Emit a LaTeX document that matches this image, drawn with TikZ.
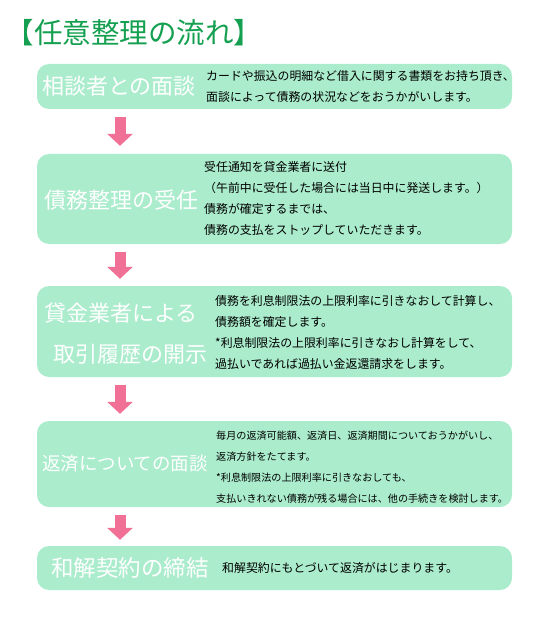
\documentclass[tikz,border=0pt]{standalone}
\usepackage{fontspec}
\setmainfont{Noto Sans CJK JP}
\usetikzlibrary{arrows.meta}
\definecolor{mint}{RGB}{170,236,204}
\definecolor{ttl}{RGB}{20,160,80}
\definecolor{pnk}{RGB}{240,112,150}
\begin{document}
\begin{tikzpicture}[x=1pt,y=-1pt,
  box/.style={fill=mint, rounded corners=12pt, minimum width=475pt, inner sep=0pt},
  lbl/.style={text=white, inner sep=0pt, font=\fontsize{22}{24}\selectfont},
  desc/.style={anchor=west, inner sep=0pt, align=left, font=\fontsize{11.9}{21}\selectfont},
  parrow/.style={draw=pnk, line width=11pt, -{Triangle[width=25pt,length=12pt]}}]
\useasboundingbox (0,0) rectangle (535,617);
\node[text=ttl, inner sep=0pt, font=\fontsize{28.5}{30}\selectfont] (title) at (134,33) {【任意整理の流れ】};

\node[box, minimum height=45pt] (b1) at (274.5,86.5) {};
\node[box, minimum height=90pt] (b2) at (274.5,199) {};
\node[box, minimum height=91pt] (b3) at (274.5,331.5) {};
\node[box, minimum height=86pt] (b4) at (274.5,464) {};
\node[box, minimum height=44pt] (b5) at (274.5,568) {};

\node[lbl] (l1) at (119,86) {相談者との面談};
\node[lbl] (l2) at (121,200) {債務整理の受任};
\node[lbl] (l3a) at (121,313) {貸金業者による};
\node[lbl] (l3b) at (130,354) {取引履歴の開示};
\node[lbl, font=\fontsize{18.5}{20}\selectfont] (l4) at (125,464) {返済についての面談};
\node[lbl, font=\fontsize{22.5}{24}\selectfont] (l5) at (130,568) {和解契約の締結};

\node[desc] (d1) at (206,86.5) {カードや振込の明細など借入に関する書類をお持ち頂き、\\面談によって債務の状況などをおうかがいします。};
\node[desc] (d2) at (204,198.5) {受任通知を貸金業者に送付\\（午前中に受任した場合には当日中に発送します。）\\債務が確定するまでは、\\債務の支払をストップしていただきます。};
\node[desc] (d3) at (215,332.5) {債務を利息制限法の上限利率に引きなおして計算し、\\債務額を確定します。\\*利息制限法の上限利率に引きなおし計算をして、\\過払いであれば過払い金返還請求をします。};
\node[desc, font=\fontsize{10.1}{21}\selectfont] (d4) at (216,467) {毎月の返済可能額、返済日、返済期間についておうかがいし、\\返済方針をたてます。\\*利息制限法の上限利率に引きなおしても、\\支払いきれない債務が残る場合には、他の手続きを検討します。};
\node[desc] (d5) at (222,568) {和解契約にもとづいて返済がはじまります。};

\coordinate (ax) at (120,0);
\draw[parrow] ([yshift=-8pt]b1.south -| ax) -- ([yshift=8pt]b2.north -| ax);
\draw[parrow] ([yshift=-8pt]b2.south -| ax) -- ([yshift=7pt]b3.north -| ax);
\draw[parrow] ([yshift=-8pt]b3.south -| ax) -- ([yshift=7pt]b4.north -| ax);
\draw[parrow] ([yshift=-8pt]b4.south -| ax) -- ([yshift=6pt]b5.north -| ax);
\end{tikzpicture}
\end{document}
